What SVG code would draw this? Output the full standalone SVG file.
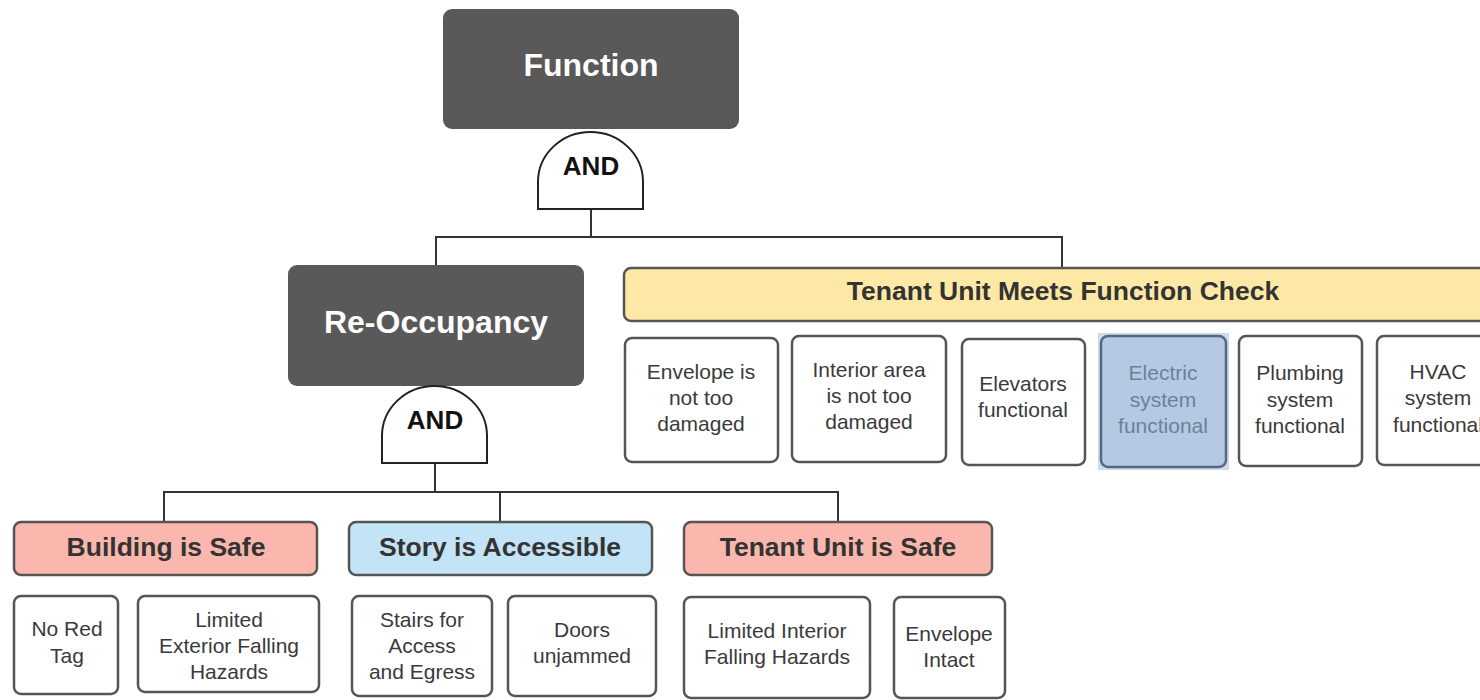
<svg xmlns="http://www.w3.org/2000/svg" width="1480" height="700" viewBox="0 0 1480 700">
<style>
.dark{fill:#595959;}
.title{font-family:"Liberation Sans",Arial,sans-serif;font-weight:bold;font-size:32px;fill:#ffffff;text-anchor:middle;}
.gate{fill:#ffffff;stroke:#222;stroke-width:2;}
.gtxt{font-family:"Liberation Sans",Arial,sans-serif;font-weight:bold;font-size:26px;fill:#111;text-anchor:middle;}
.head{stroke:#555;stroke-width:2.5;}
.htxt{font-family:"Liberation Sans",Arial,sans-serif;font-weight:bold;font-size:26.5px;fill:#333;text-anchor:middle;}
.leaf{fill:#ffffff;stroke:#555;stroke-width:2.5;}
.ltxt{font-family:"Liberation Sans",Arial,sans-serif;font-size:21px;fill:#3a3a3a;text-anchor:middle;}
.conn{fill:none;stroke:#333;stroke-width:2;}
</style>
<rect width="1480" height="700" fill="#ffffff"/>
<g id="connectors">
<path class="conn" d="M591,209 V237 M436,266 V237 H1062 V268"/>
<path class="conn" d="M435,463 V492 M164,521 V492 H838 V521 M500,492 V521"/>
</g>
<g id="function"><rect class="dark" x="443" y="9" width="296" height="120" rx="9"/><text class="title" x="591" y="76">Function</text></g>
<g id="and1"><path class="gate" d="M538,209 L538,182 A52.5,50 0 0 1 643,182 L643,209 Z"/><text class="gtxt" x="591" y="175">AND</text></g>
<g id="reoccupancy"><rect class="dark" x="288" y="265" width="296" height="121" rx="9"/><text class="title" x="436" y="333">Re-Occupancy</text></g>
<g id="and2"><path class="gate" d="M382,463 L382,436 A52.5,50 0 0 1 487,436 L487,463 Z"/><text class="gtxt" x="435" y="429">AND</text></g>
<g id="tenant-check"><rect class="head" x="624" y="268" width="880" height="53" rx="7" fill="#fde9a5"/><text class="htxt" x="1063" y="300">Tenant Unit Meets Function Check</text></g>
<g id="envelope-damaged"><rect class="leaf" x="625" y="338" width="153" height="124" rx="7"/><text class="ltxt" x="701" y="379">Envelope is</text><text class="ltxt" x="701" y="405">not too</text><text class="ltxt" x="701" y="431">damaged</text></g>
<g id="interior-damaged"><rect class="leaf" x="792" y="336" width="154" height="126" rx="7"/><text class="ltxt" x="869" y="377">Interior area</text><text class="ltxt" x="869" y="403">is not too</text><text class="ltxt" x="869" y="429">damaged</text></g>
<g id="elevators"><rect class="leaf" x="962" y="339" width="123" height="126" rx="7"/><text class="ltxt" x="1023" y="391">Elevators</text><text class="ltxt" x="1023" y="417">functional</text></g>
<g id="electric"><rect x="1098" y="333" width="131" height="137" fill="#ccdcee"/><rect x="1101" y="336" width="125" height="131" rx="7" fill="#b5c9e2" stroke="#56677f" stroke-width="2.5"/><text class="ltxt" x="1163" y="380" fill="#6c819c" style="fill:#6c819c">Electric</text><text class="ltxt" x="1163" y="407" style="fill:#6c819c">system</text><text class="ltxt" x="1163" y="433" style="fill:#6c819c">functional</text></g>
<g id="plumbing"><rect class="leaf" x="1239" y="336" width="123" height="130" rx="7"/><text class="ltxt" x="1300" y="380">Plumbing</text><text class="ltxt" x="1300" y="407">system</text><text class="ltxt" x="1300" y="433">functional</text></g>
<g id="hvac"><rect class="leaf" x="1377" y="336" width="123" height="129" rx="7"/><text class="ltxt" x="1438" y="379">HVAC</text><text class="ltxt" x="1438" y="405">system</text><text class="ltxt" x="1438" y="432">functional</text></g>
<g id="building-safe"><rect class="head" x="14" y="522" width="303" height="53" rx="7" fill="#fbb7ad"/><text class="htxt" x="166" y="556">Building is Safe</text></g>
<g id="story-accessible"><rect class="head" x="349" y="522" width="303" height="53" rx="7" fill="#c3e3f6"/><text class="htxt" x="500" y="556">Story is Accessible</text></g>
<g id="tenant-safe"><rect class="head" x="684" y="522" width="308" height="53" rx="7" fill="#fbb7ad"/><text class="htxt" x="838" y="556">Tenant Unit is Safe</text></g>
<g id="no-red-tag"><rect class="leaf" x="14" y="596" width="104" height="98" rx="7"/><text class="ltxt" x="67" y="636">No Red</text><text class="ltxt" x="67" y="663">Tag</text></g>
<g id="limited-exterior"><rect class="leaf" x="138" y="596" width="181" height="96" rx="7"/><text class="ltxt" x="229" y="627">Limited</text><text class="ltxt" x="229" y="653">Exterior Falling</text><text class="ltxt" x="229" y="679">Hazards</text></g>
<g id="stairs"><rect class="leaf" x="352" y="596" width="140" height="100" rx="7"/><text class="ltxt" x="422" y="627">Stairs for</text><text class="ltxt" x="422" y="653">Access</text><text class="ltxt" x="422" y="679">and Egress</text></g>
<g id="doors"><rect class="leaf" x="508" y="596" width="148" height="100" rx="7"/><text class="ltxt" x="582" y="637">Doors</text><text class="ltxt" x="582" y="663">unjammed</text></g>
<g id="limited-interior"><rect class="leaf" x="684" y="597" width="186" height="101" rx="7"/><text class="ltxt" x="777" y="638">Limited Interior</text><text class="ltxt" x="777" y="664">Falling Hazards</text></g>
<g id="envelope-intact"><rect class="leaf" x="894" y="597" width="111" height="101" rx="7"/><text class="ltxt" x="949" y="641">Envelope</text><text class="ltxt" x="949" y="667">Intact</text></g>
</svg>
